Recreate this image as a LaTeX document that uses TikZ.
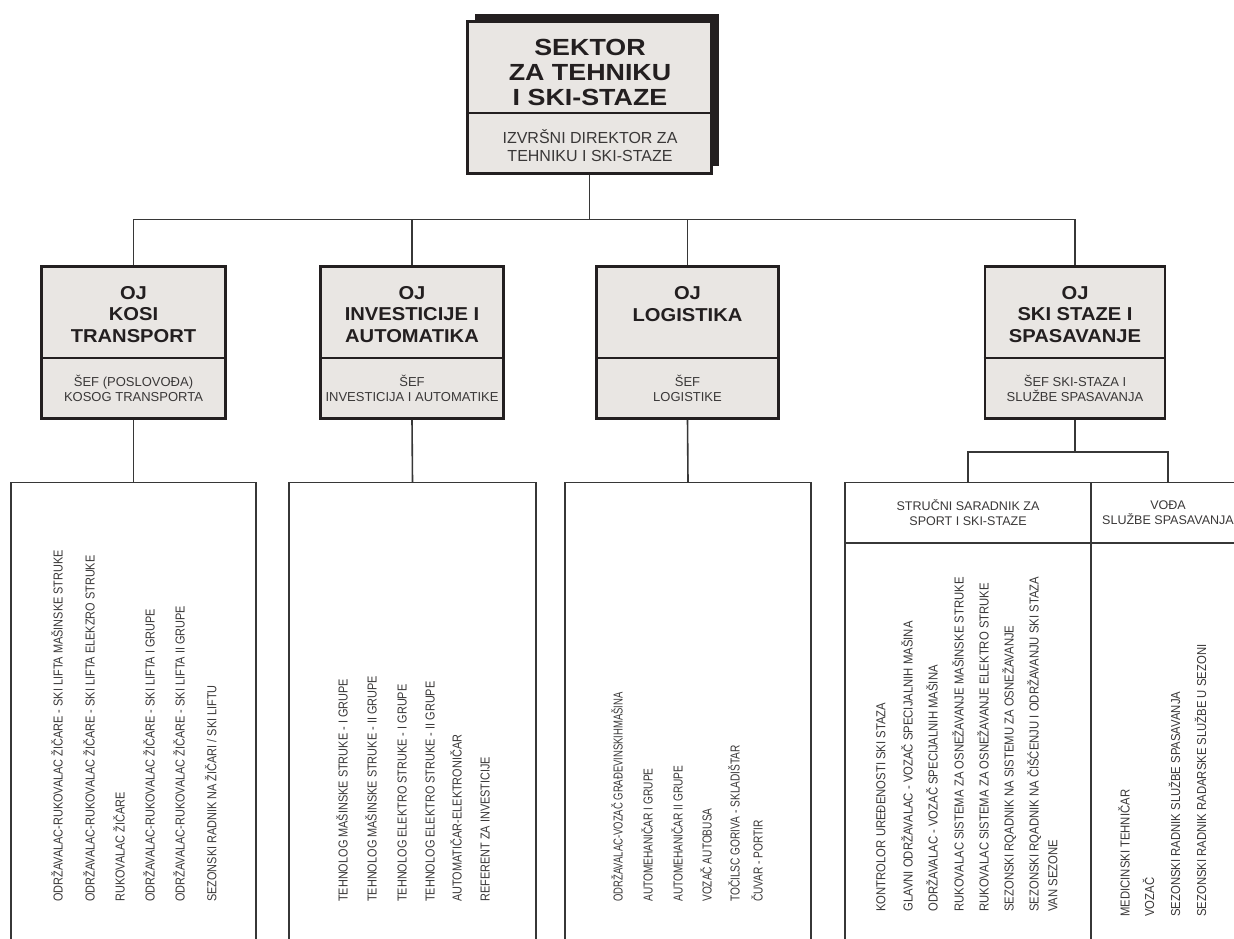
\documentclass[tikz,border=0pt]{standalone}
\usepackage{fontspec}
\setmainfont{Liberation Sans}
\newfontfamily\sectorfont{Liberation Sans}[FakeStretch=1.15]
\newfontfamily\unitfont{Liberation Sans}[FakeStretch=1.08]
\newfontfamily\postfont{Liberation Sans}[FakeStretch=0.84]
\newfontfamily\postnarrow{Liberation Sans}[FakeStretch=0.78]
\newfontfamily\postnarrower{Liberation Sans}[FakeStretch=0.73]
\newfontfamily\postwide{Liberation Sans}[FakeStretch=0.87]
\usetikzlibrary{fit,shadows}

\definecolor{boxfill}{RGB}{233,230,227}
\definecolor{ink}{RGB}{35,31,32}
\definecolor{softink}{RGB}{58,56,56}
\definecolor{rulecol}{RGB}{55,55,55}

\tikzset{
  unitbox/.style={draw=ink, fill=boxfill, line width=2pt, inner sep=0pt},
  listbox/.style={draw=rulecol, line width=1.1pt, inner sep=0pt},
  link/.style={draw=rulecol, line width=1.2pt},
  divider/.style={draw=ink, line width=1.5pt},
  sectortitle/.style={font=\sectorfont\bfseries\fontsize{17.5pt}{18.4pt}\selectfont,
    align=center, text=ink, inner sep=0pt},
  sectorsub/.style={font=\fontsize{12pt}{13.5pt}\selectfont,
    align=center, text=softink, inner sep=0pt},
  unittitle/.style={font=\unitfont\bfseries\fontsize{14pt}{16.1pt}\selectfont,
    align=center, text=ink, inner sep=0pt},
  unitsub/.style={font=\fontsize{9.75pt}{11.25pt}\selectfont,
    align=center, text=softink, inner sep=0pt},
  headtext/.style={font=\fontsize{9.4pt}{11.25pt}\selectfont,
    align=center, text=softink, inner sep=0pt},
  post/.style={rotate=90, anchor=base west, inner sep=0pt,
    font=\postfont\fontsize{9.75pt}{11pt}\selectfont, text=softink},
  narrowpost/.style={post, font=\postnarrow\fontsize{9.75pt}{11pt}\selectfont},
  narrowerpost/.style={post, font=\postnarrower\fontsize{9.75pt}{11pt}\selectfont},
  widepost/.style={post, font=\postwide\fontsize{9.75pt}{11pt}\selectfont},
}

\begin{document}
\begin{tikzpicture}[x=0.75pt, y=-0.75pt]
\useasboundingbox (0,0) rectangle (1234,938);
\clip (0,0) rectangle (1234,938);
\fill[white] (0,0) rectangle (1234,938);

% horizontal cut lines inside the boxes
\coordinate (sectorcut) at (0,113);
\coordinate (unitcut) at (0,358);

% ---------- sector ----------
\node[unitbox, general shadow={fill=ink, shadow xshift=5.25pt, shadow yshift=5.25pt},
      fit={(467.5,21.5) (711.5,173.5)}] (sector) {};
\draw[divider] (sector.west |- sectorcut) -- (sector.east |- sectorcut);
\node[sectortitle] (sectorname) at (590,72.5) {SEKTOR\\ZA TEHNIKU\\I SKI-STAZE};
\node[sectorsub] (sectorhead) at (590,145.5) {IZVRŠNI DIREKTOR ZA\\TEHNIKU I SKI-STAZE};

% ---------- organisational units ----------
\node[unitbox, fit={(41.5,266.5) (225.5,418.5)}] (kosi) {};
\node[unitbox, fit={(320.5,266.5) (503.5,418.5)}] (invest) {};
\node[unitbox, fit={(596.5,266.5) (778.5,418.5)}] (logist) {};
\node[unitbox, fit={(985,266.5) (1165,418.5)}] (ski) {};
\foreach \u in {kosi,invest,logist,ski}
  \draw[divider] (\u.west |- unitcut) -- (\u.east |- unitcut);

\node[unittitle] (kosiname) at (kosi.center |- 0,314.5) {OJ\\KOSI\\TRANSPORT};
\node[unittitle] (investname) at (invest.center |- 0,314.5) {OJ\\INVESTICIJE I\\AUTOMATIKA};
\node[unittitle] (logistname) at (logist.center |- 0,304) {OJ\\LOGISTIKA};
\node[unittitle] (skiname) at (ski.center |- 0,314.5) {OJ\\SKI STAZE I\\SPASAVANJE};

\node[unitsub] (kosihead) at (kosi.center |- 0,388.5) {ŠEF (POSLOVOĐA)\\KOSOG TRANSPORTA};
\node[unitsub] (investhead) at (invest.center |- 0,388.5) {ŠEF\\INVESTICIJA I AUTOMATIKE};
\node[unitsub] (logisthead) at (logist.center |- 0,388.5) {ŠEF\\LOGISTIKE};
\node[unitsub] (skihead) at (ski.center |- 0,388.5) {ŠEF SKI-STAZA I\\SLUŽBE SPASAVANJA};

% ---------- staff lists ----------
\node[listbox, fit={(11,482.5) (256,1010)}] (kosilist) {};
\node[listbox, fit={(289,482.5) (536,1010)}] (investlist) {};
\node[listbox, fit={(565,482.5) (811,1010)}] (logistlist) {};
\node[listbox, fit={(845,482.5) (1091,543)}] (sporthead) {};
\node[listbox, fit={(1091,482.5) (1245,543)}] (rescuehead) {};
\node[listbox, fit={(845,543) (1091,1010)}] (sportlist) {};
\node[listbox, fit={(1091,543) (1245,1010)}] (rescuelist) {};

\node[headtext] (sporttitle) at (sporthead.center) {STRUČNI SARADNIK ZA\\SPORT I SKI-STAZE};
\node[headtext] (rescuetitle) at (rescuehead.center) {VOĐA\\SLUŽBE SPASAVANJA};

% ---------- connectors ----------
\foreach \u in {kosi,invest,logist,ski}
  \draw[link] (sector.south) -- ++(0,44.5) -| (\u.north);
\draw[link] (kosi.south) -- (kosilist.north);
\draw[link] (invest.south) -- (investlist.north);
\draw[link] (logist.south) -- (logistlist.north);
\draw[link] (ski.south) -- ++(0,32) -| (sporthead.north);
\draw[link] (ski.south) -- ++(0,32) -| (rescuehead.north);

% ---------- posts, written upwards ----------
\node[post] (k1) at (62.7,902) {ODRŽAVALAC-RUKOVALAC ŽIČARE - SKI LIFTA MAŠINSKE STRUKE};
\node[post] (k2) at (94.7,902) {ODRŽAVALAC-RUKOVALAC ŽIČARE - SKI LIFTA ELEKZRO STRUKE};
\node[post] (k3) at (124.7,902) {RUKOVALAC ŽIČARE};
\node[post] (k4) at (154.7,902) {ODRŽAVALAC-RUKOVALAC ŽIČARE - SKI LIFTA I GRUPE};
\node[post] (k5) at (184.7,902) {ODRŽAVALAC-RUKOVALAC ŽIČARE - SKI LIFTA II GRUPE};
\node[post] (k6) at (216.4,902) {SEZONSKI RADNIK NA ŽIČARI / SKI LIFTU};

\node[post] (i1) at (347.7,902) {TEHNOLOG MAŠINSKE STRUKE - I GRUPE};
\node[post] (i2) at (376.7,902) {TEHNOLOG MAŠINSKE STRUKE - II GRUPE};
\node[post] (i3) at (406.7,902) {TEHNOLOG ELEKTRO STRUKE - I GRUPE};
\node[post] (i4) at (434.7,902) {TEHNOLOG ELEKTRO STRUKE - II GRUPE};
\node[post] (i5) at (461.7,902) {AUTOMATIČAR-ELEKTRONIČAR};
\node[post] (i6) at (489.7,902) {REFERENT ZA INVESTICIJE};

\node[narrowerpost] (l1) at (622.7,902) {ODRŽAVALAC-VOZAČ GRAĐEVINSKIHMAŠINA};
\node[narrowpost] (l2) at (652.7,902) {AUTOMEHANIČAR I GRUPE};
\node[narrowpost] (l3) at (682.7,902) {AUTOMEHANIČAR II GRUPE};
\node[narrowpost] (l4) at (711.7,902) {VOZAČ AUTOBUSA};
\node[narrowpost] (l5) at (739.7,902) {TOČILSC GORIVA - SKLADIŠTAR};
\node[narrowpost] (l6) at (762.7,902) {ČUVAR - PORTIR};

\node[widepost] (s1) at (885.4,912) {KONTROLOR UREĐENOSTI SKI STAZA};
\node[widepost] (s2) at (912.7,912) {GLAVNI ODRŽAVALAC - VOZAČ SPECIJALNIH MAŠINA};
\node[widepost] (s3) at (937.7,912) {ODRŽAVALAC - VOZAČ SPECIJALNIH MAŠINA};
\node[widepost] (s4) at (963.7,912) {RUKOVALAC SISTEMA ZA OSNEŽAVANJE MAŠINSKE STRUKE};
\node[widepost] (s5) at (988.7,912) {RUKOVALAC SISTEMA ZA OSNEŽAVANJE ELEKTRO STRUKE};
\node[widepost] (s6) at (1013.7,912) {SEZONSKI RQADNIK NA SISTEMU ZA OSNEŽAVANJE};
\node[widepost] (s7) at (1038.7,912) {SEZONSKI RQADNIK NA ČIŠĆENJU I ODRŽAVANJU SKI STAZA};
\node[widepost] (s7b) at (1057.4,912) {VAN SEZONE};

\node[widepost] (r1) at (1129.7,917) {MEDICINSKI TEHNIČAR};
\node[widepost] (r2) at (1154,917) {VOZAČ};
\node[widepost] (r3) at (1180,917) {SEZONSKI RADNIK SLUŽBE SPASAVANJA};
\node[widepost] (r4) at (1206,917) {SEZONSKI RADNIK RADARSKE SLUŽBE U SEZONI};
\end{tikzpicture}
\end{document}
